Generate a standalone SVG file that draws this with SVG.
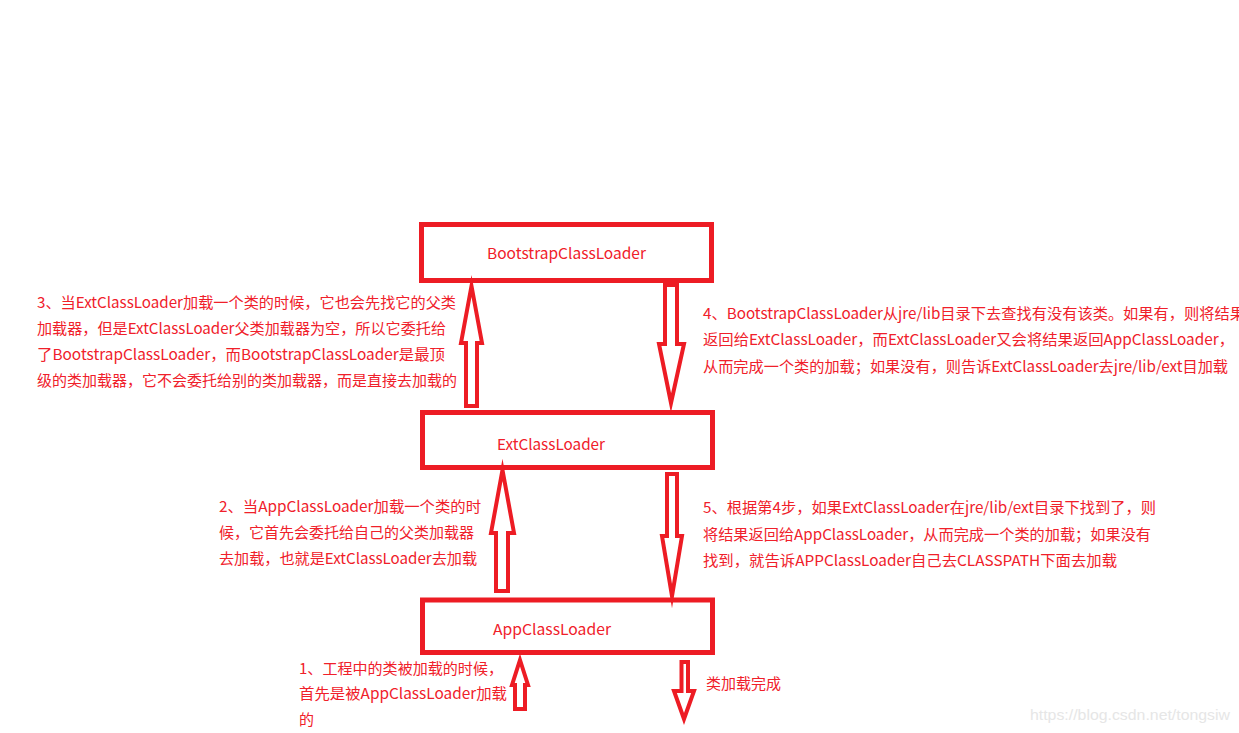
<svg xmlns="http://www.w3.org/2000/svg" width="1239" height="733" viewBox="0 0 1239 733">
<style>
.box{fill:#ffffff;stroke:#ed1c24;stroke-width:5}
.arr{fill:#ffffff;stroke:#ed1c24;stroke-width:4;stroke-linejoin:miter;stroke-miterlimit:10}
text{font-family:"Noto Sans CJK SC","Microsoft YaHei",sans-serif;font-size:15px;fill:#f0202a}
.wm{font-family:"Liberation Sans",Arial,sans-serif;font-size:15px;fill:#e6e6e6}
</style>
<rect width="1239" height="733" fill="#ffffff"/>
<g id="bootstrap">
<rect class="box" x="421.5" y="224.5" width="290" height="56"/>
<text x="487" y="259" textLength="159" lengthAdjust="spacingAndGlyphs">BootstrapClassLoader</text>
</g>
<g id="ext">
<rect class="box" x="422.5" y="412.5" width="290" height="55"/>
<text x="497" y="450" textLength="108" lengthAdjust="spacingAndGlyphs">ExtClassLoader</text>
</g>
<g id="app">
<rect class="box" x="422.5" y="600" width="290" height="52.5"/>
<text x="493" y="635" textLength="118" lengthAdjust="spacingAndGlyphs">AppClassLoader</text>
</g>
<g id="connectors">
<polygon class="arr" points="471.5,286 482,343 477,343 477,406 466,406 466,343 461,343"/>
<polygon class="arr" points="665,285 677,285 677,344 684,344 671,403 659,344 665,344"/>
<polygon class="arr" points="502.5,470 514,533 508,533 508,591 496,591 496,533 491,533"/>
<polygon class="arr" points="667,474 677,474 677,536 682,536 672,596 662,536 667,536"/>
<polygon class="arr" points="520,660 528,685 525,685 525,709 515,709 515,685 512,685"/>
<polygon class="arr" points="681.5,662 688,662 688,691 694,691 684,719 674,691 681.5,691"/>
</g>
<g id="note3">
<text x="37" y="308" textLength="419" lengthAdjust="spacingAndGlyphs">3、当ExtClassLoader加载一个类的时候，它也会先找它的父类</text>
<text x="37" y="334" textLength="409" lengthAdjust="spacingAndGlyphs">加载器，但是ExtClassLoader父类加载器为空，所以它委托给</text>
<text x="37" y="360" textLength="408" lengthAdjust="spacingAndGlyphs">了BootstrapClassLoader，而BootstrapClassLoader是最顶</text>
<text x="37" y="386" textLength="420" lengthAdjust="spacingAndGlyphs">级的类加载器，它不会委托给别的类加载器，而是直接去加载的</text>
</g>
<g id="note4">
<text x="703" y="319" textLength="542" lengthAdjust="spacingAndGlyphs">4、BootstrapClassLoader从jre/lib目录下去查找有没有该类。如果有，则将结果</text>
<text x="703" y="345" textLength="531" lengthAdjust="spacingAndGlyphs">返回给ExtClassLoader，而ExtClassLoader又会将结果返回AppClassLoader，</text>
<text x="703" y="372" textLength="525" lengthAdjust="spacingAndGlyphs">从而完成一个类的加载；如果没有，则告诉ExtClassLoader去jre/lib/ext目加载</text>
</g>
<g id="note2">
<text x="219" y="512" textLength="262" lengthAdjust="spacingAndGlyphs">2、当AppClassLoader加载一个类的时</text>
<text x="219" y="538" textLength="255" lengthAdjust="spacingAndGlyphs">候，它首先会委托给自己的父类加载器</text>
<text x="219" y="564" textLength="258" lengthAdjust="spacingAndGlyphs">去加载，也就是ExtClassLoader去加载</text>
</g>
<g id="note5">
<text x="703" y="513" textLength="453" lengthAdjust="spacingAndGlyphs">5、根据第4步，如果ExtClassLoader在jre/lib/ext目录下找到了，则</text>
<text x="703" y="540" textLength="448" lengthAdjust="spacingAndGlyphs">将结果返回给AppClassLoader，从而完成一个类的加载；如果没有</text>
<text x="703" y="566" textLength="414" lengthAdjust="spacingAndGlyphs">找到，就告诉APPClassLoader自己去CLASSPATH下面去加载</text>
</g>
<g id="note1">
<text x="299" y="674" textLength="204" lengthAdjust="spacingAndGlyphs">1、工程中的类被加载的时候，</text>
<text x="299" y="699" textLength="208" lengthAdjust="spacingAndGlyphs">首先是被AppClassLoader加载</text>
<text x="299" y="725">的</text>
</g>
<g id="done">
<text x="706" y="689" textLength="75" lengthAdjust="spacingAndGlyphs">类加载完成</text>
</g>
<text class="wm" x="1030" y="720" textLength="200" lengthAdjust="spacingAndGlyphs">https://blog.csdn.net/tongsiw</text>
</svg>
